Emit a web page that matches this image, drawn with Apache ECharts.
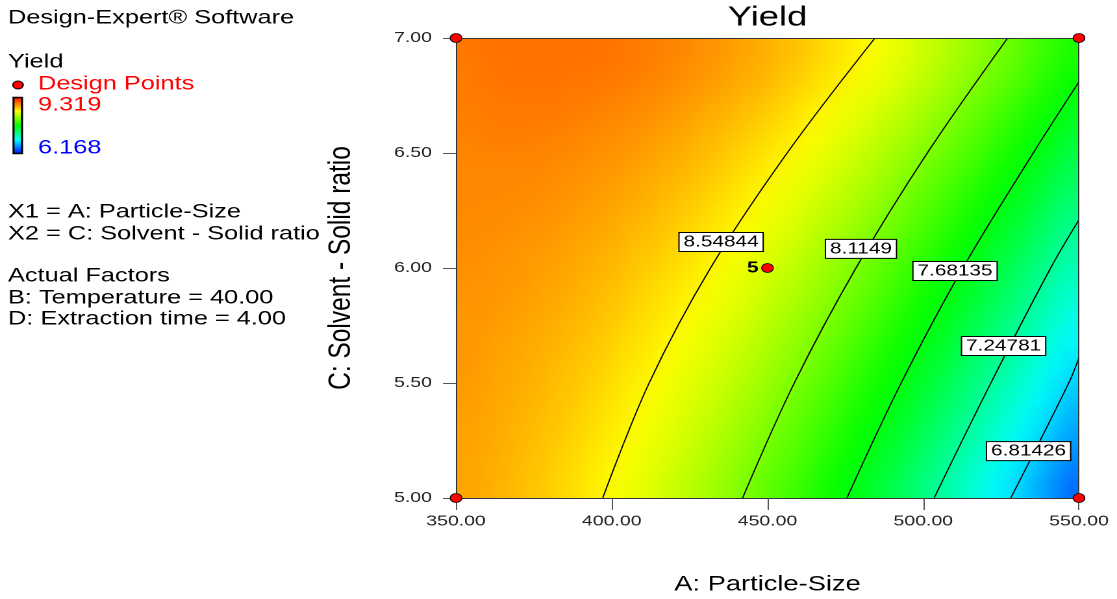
<!DOCTYPE html>
<html>
<head>
<meta charset="utf-8">
<script src="https://cdn.jsdelivr.net/npm/echarts/dist/echarts.min.js"></script>
<style>
  html, body { margin: 0; padding: 0; background: #fff; width: 1117px; height: 599px; overflow: hidden; position: relative; }
  /* response surface: drawn one pixel per cell by ECharts, then shown smoothly enlarged over the plot area */
  #surface { position: absolute; left: 456px; top: 38px; width: 40px; height: 16px;
             transform: scale(15.575, 28.75); transform-origin: 0 0; z-index: 1; image-rendering: auto; }
  #chart { position: absolute; left: 0; top: 0; width: 860px; height: 599px;
           transform: scaleX(1.2988372); transform-origin: 0 0; z-index: 2; }
</style>
</head>
<body>
<div id="surface"></div>
<div id="chart"></div>
<script>
// ---------------- DATA ----------------
// Surface cell centres along A: Particle-Size
const particleSizeCells = [352.5, 357.5, 362.5, 367.5, 372.5, 377.5, 382.5, 387.5, 392.5, 397.5,
  402.5, 407.5, 412.5, 417.5, 422.5, 427.5, 432.5, 437.5, 442.5, 447.5,
  452.5, 457.5, 462.5, 467.5, 472.5, 477.5, 482.5, 487.5, 492.5, 497.5,
  502.5, 507.5, 512.5, 517.5, 522.5, 527.5, 532.5, 537.5, 542.5, 547.5];
// Surface cell centres along C: Solvent - Solid ratio (bottom to top)
const solventRatioCells = [5.0625, 5.1875, 5.3125, 5.4375, 5.5625, 5.6875, 5.8125, 5.9375,
  6.0625, 6.1875, 6.3125, 6.4375, 6.5625, 6.6875, 6.8125, 6.9375];
// Yield read per cell; one row per solventRatioCells entry (bottom row first)
const yieldGrid = [
  [8.81,8.79,8.77,8.74,8.72,8.69,8.66,8.63,8.59,8.55, 8.51,8.47,8.43,8.39,8.34,8.29,8.24,8.18,8.13,8.07, 8.01,7.95,7.89,7.82,7.75,7.68,7.61,7.54,7.46,7.38, 7.30,7.22,7.14,7.05,6.96,6.87,6.78,6.69,6.59,6.49],
  [8.82,8.80,8.78,8.76,8.73,8.71,8.68,8.65,8.61,8.58, 8.54,8.50,8.46,8.42,8.37,8.33,8.28,8.23,8.17,8.12, 8.06,8.00,7.94,7.87,7.81,7.74,7.67,7.60,7.53,7.45, 7.37,7.29,7.21,7.13,7.04,6.95,6.86,6.77,6.68,6.58],
  [8.82,8.81,8.79,8.77,8.75,8.72,8.70,8.67,8.64,8.60, 8.57,8.53,8.49,8.45,8.41,8.36,8.32,8.27,8.22,8.16, 8.11,8.05,7.99,7.93,7.87,7.80,7.73,7.66,7.59,7.52, 7.44,7.36,7.28,7.20,7.12,7.03,6.94,6.85,6.76,6.67],
  [8.83,8.82,8.80,8.78,8.76,8.74,8.72,8.69,8.66,8.63, 8.60,8.56,8.52,8.49,8.44,8.40,8.36,8.31,8.26,8.21, 8.16,8.10,8.04,7.98,7.92,7.86,7.79,7.73,7.66,7.58, 7.51,7.43,7.36,7.28,7.19,7.11,7.02,6.94,6.85,6.75],
  [8.84,8.83,8.81,8.80,8.78,8.76,8.73,8.71,8.68,8.66, 8.62,8.59,8.56,8.52,8.48,8.44,8.40,8.35,8.31,8.26, 8.20,8.15,8.10,8.04,7.98,7.92,7.85,7.79,7.72,7.65, 7.58,7.51,7.43,7.35,7.27,7.19,7.11,7.02,6.93,6.84],
  [8.85,8.84,8.82,8.81,8.79,8.77,8.75,8.73,8.71,8.68, 8.65,8.62,8.59,8.55,8.52,8.48,8.44,8.40,8.35,8.30, 8.25,8.20,8.15,8.09,8.04,7.98,7.92,7.85,7.79,7.72, 7.65,7.58,7.50,7.43,7.35,7.27,7.19,7.10,7.02,6.93],
  [8.85,8.85,8.84,8.82,8.81,8.79,8.78,8.75,8.73,8.71, 8.68,8.65,8.62,8.59,8.55,8.52,8.48,8.44,8.40,8.35, 8.30,8.25,8.20,8.15,8.09,8.04,7.98,7.92,7.85,7.79, 7.72,7.65,7.58,7.50,7.43,7.35,7.27,7.19,7.10,7.02],
  [8.86,8.86,8.85,8.84,8.83,8.81,8.80,8.78,8.76,8.73, 8.71,8.68,8.65,8.62,8.59,8.56,8.52,8.48,8.44,8.40, 8.35,8.30,8.26,8.20,8.15,8.10,8.04,7.98,7.92,7.85, 7.79,7.72,7.65,7.58,7.51,7.43,7.35,7.27,7.19,7.11],
  [8.87,8.87,8.86,8.85,8.84,8.83,8.82,8.80,8.78,8.76, 8.74,8.71,8.69,8.66,8.63,8.60,8.56,8.52,8.49,8.44, 8.40,8.36,8.31,8.26,8.21,8.16,8.10,8.04,7.98,7.92, 7.86,7.79,7.73,7.66,7.58,7.51,7.44,7.36,7.28,7.20],
  [8.88,8.88,8.87,8.87,8.86,8.85,8.84,8.82,8.81,8.79, 8.77,8.75,8.72,8.70,8.67,8.64,8.60,8.57,8.53,8.49, 8.45,8.41,8.36,8.32,8.27,8.22,8.16,8.11,8.05,7.99, 7.93,7.87,7.80,7.73,7.66,7.59,7.52,7.44,7.36,7.28],
  [8.89,8.89,8.89,8.88,8.88,8.87,8.86,8.85,8.83,8.82, 8.80,8.78,8.76,8.73,8.70,8.68,8.64,8.61,8.58,8.54, 8.50,8.46,8.42,8.37,8.33,8.28,8.23,8.17,8.12,8.06, 8.00,7.94,7.88,7.81,7.74,7.67,7.60,7.53,7.45,7.37],
  [8.90,8.90,8.90,8.90,8.90,8.89,8.88,8.87,8.86,8.84, 8.83,8.81,8.79,8.77,8.74,8.72,8.69,8.66,8.62,8.59, 8.55,8.51,8.47,8.43,8.38,8.34,8.29,8.24,8.18,8.13, 8.07,8.01,7.95,7.89,7.82,7.76,7.69,7.61,7.54,7.46],
  [8.91,8.91,8.92,8.92,8.91,8.91,8.90,8.90,8.88,8.87, 8.86,8.84,8.82,8.80,8.78,8.76,8.73,8.70,8.67,8.64, 8.60,8.57,8.53,8.49,8.44,8.40,8.35,8.30,8.25,8.20, 8.14,8.09,8.03,7.97,7.90,7.84,7.77,7.70,7.63,7.55],
  [8.92,8.92,8.93,8.93,8.93,8.93,8.93,8.92,8.91,8.90, 8.89,8.88,8.86,8.84,8.82,8.80,8.77,8.75,8.72,8.69, 8.66,8.62,8.58,8.54,8.50,8.46,8.42,8.37,8.32,8.27, 8.22,8.16,8.10,8.04,7.98,7.92,7.85,7.79,7.72,7.65],
  [8.93,8.94,8.94,8.95,8.95,8.95,8.95,8.94,8.94,8.93, 8.92,8.91,8.89,8.88,8.86,8.84,8.82,8.79,8.77,8.74, 8.71,8.67,8.64,8.60,8.56,8.52,8.48,8.44,8.39,8.34, 8.29,8.23,8.18,8.12,8.06,8.00,7.94,7.87,7.81,7.74],
  [8.94,8.95,8.96,8.97,8.97,8.97,8.97,8.97,8.97,8.96, 8.95,8.94,8.93,8.92,8.90,8.88,8.86,8.84,8.81,8.79, 8.76,8.73,8.70,8.66,8.62,8.59,8.54,8.50,8.46,8.41, 8.36,8.31,8.26,8.20,8.14,8.09,8.02,7.96,7.89,7.83]
];
// Colour scale range shown in the legend
const yieldMin = 6.168;
const yieldMax = 9.319;
// Contour levels and their lines, [A, C] points
const contourLevels = ['8.54844', '8.1149', '7.68135', '7.24781', '6.81426'];
const contour1 = [[397.1, 5.0], [412.0, 5.5], [431.7, 6.0], [456.3, 6.5], [484.5, 7.0]];
const contour2 = [[442.0, 5.0], [458.6, 5.5], [478.4, 6.0], [501.3, 6.5], [527.1, 7.0]];
const contour3 = [[475.5, 5.0], [492.9, 5.5], [512.7, 6.0], [535.3, 6.5], [550.0, 6.81]];
const contour4 = [[503.5, 5.0], [521.7, 5.5], [540.9, 6.0], [550.0, 6.21]];
const contour5 = [[528.1, 5.0], [546.7, 5.5], [550.0, 5.61]];
// Where each contour's value tag sits, [A, C]
const contourTagAt = [[435.1, 6.113], [480.0, 6.083], [510.2, 5.987], [525.8, 5.661], [533.8, 5.204]];
// Design points [A, C, replicates]
const designPoints = [[350, 5, 1], [350, 7, 1], [550, 5, 1], [550, 7, 1], [450, 6, 5]];
// Side-panel texts
const infoTexts = ['Design-Expert\u00ae Software', 'Yield', 'Design Points', String(yieldMax), String(yieldMin),
  'X1 = A: Particle-Size', 'X2 = C: Solvent - Solid ratio', 'Actual Factors',
  'B: Temperature = 40.00', 'D: Extraction time = 4.00'];

// ---------------- LAYOUT / STYLE ----------------
const RAMP = ['#0000ff', '#00ffff', '#00ff00', '#ffff00', '#ff0000'];
const S = 1117 / 860;               // horizontal stretch of the original picture
const X = px => px / S;             // reference-pixel x -> chart x
const FONT = '"Liberation Sans", Arial, Helvetica, sans-serif';
const plot = { left: X(456), top: 38, width: X(1079) - X(456), height: 460 };

// ---- surface chart (heatmap, one pixel per cell) ----
const heatData = [];
yieldGrid.forEach((row, j) => row.forEach((v, k) => heatData.push([k, j, v])));
const surface = echarts.init(document.getElementById('surface'), null, { renderer: 'canvas', devicePixelRatio: 1 });
surface.setOption({
  animation: false,
  grid: { left: 0, top: 0, right: 0, bottom: 0, outerBoundsMode: 'none' },
  xAxis: { type: 'category', data: particleSizeCells.map(String), show: false },
  yAxis: { type: 'category', data: solventRatioCells.map(String), show: false },
  visualMap: { type: 'continuous', show: false, min: yieldMin, max: yieldMax, inRange: { color: RAMP } },
  series: [{ type: 'heatmap', data: heatData, progressive: 0, silent: true, emphasis: { disabled: true } }]
});

// ---- main chart ----
const infoLayout = [
  { x: 8, y: 18, color: '#000' }, { x: 8, y: 62, color: '#000' },
  { x: 38, y: 84, color: '#ff0000' }, { x: 38, y: 105, color: '#ff0000' },
  { x: 38, y: 148, color: '#0000ff' }, { x: 8, y: 212, color: '#000' },
  { x: 8, y: 234, color: '#000' }, { x: 8, y: 276, color: '#000' },
  { x: 8, y: 298, color: '#000' }, { x: 8, y: 319, color: '#000' }
];
const graphics = infoTexts.map((t, i) => ({
  type: 'text', left: X(infoLayout[i].x), top: infoLayout[i].y - 10, z: 20,
  style: { text: t, fill: infoLayout[i].color, font: '19.5px ' + FONT }
}));
graphics.push({ type: 'circle', shape: { cx: X(18), cy: 85, r: 4 }, z: 20,
  style: { fill: '#ff0000', stroke: '#000', lineWidth: 1 } });
graphics.push({ type: 'rect', shape: { x: X(13.5), y: 97.5, width: X(22) - X(13.5), height: 56 }, z: 20,
  style: { stroke: '#000', lineWidth: 1.6,
    fill: { type: 'linear', x: 0, y: 1, x2: 0, y2: 0,
      colorStops: RAMP.map((c, i) => ({ offset: i / (RAMP.length - 1), color: c })) } } });

const contourLines = [contour1, contour2, contour3, contour4, contour5];
const frameAxis = { type: 'value', z: 10,
  axisLine: { show: true, onZero: false, lineStyle: { color: '#333', width: 1 } },
  axisTick: { show: false }, axisLabel: { show: false }, splitLine: { show: false } };

const option = {
  animation: false,
  backgroundColor: 'transparent',
  textStyle: { fontFamily: FONT },
  title: { text: 'Yield', left: X(767.5), top: 4, padding: 0, textAlign: 'center',
    textStyle: { fontSize: 28, fontWeight: 'normal', color: '#000', fontFamily: FONT } },
  grid: Object.assign({ outerBoundsMode: 'none' }, plot),
  xAxis: [
    Object.assign({}, frameAxis, {
      min: 350, max: 550, interval: 50, position: 'bottom',
      name: 'A: Particle-Size', nameLocation: 'middle', nameGap: 76,
      nameTextStyle: { fontSize: 21, color: '#000', fontFamily: FONT },
      axisTick: { show: true, length: 12, lineStyle: { color: '#555' } },
      axisLabel: { show: true, margin: 16, fontSize: 15, color: '#222', fontFamily: FONT,
        formatter: v => v.toFixed(2) }
    }),
    Object.assign({}, frameAxis, { min: 350, max: 550, position: 'top' })
  ],
  yAxis: [
    Object.assign({}, frameAxis, {
      min: 5, max: 7, interval: 0.5, position: 'left',
      name: 'C: Solvent - Solid ratio', nameLocation: 'middle', nameGap: 76,
      nameTextStyle: { fontSize: 24.5, color: '#000', fontFamily: FONT },
      axisTick: { show: true, length: 10, lineStyle: { color: '#555' } },
      axisLabel: { show: true, margin: 18.5, fontSize: 15, color: '#222', fontFamily: FONT,
        formatter: v => v.toFixed(2) }
    }),
    Object.assign({}, frameAxis, { min: 5, max: 7, position: 'right' })
  ],
  graphic: graphics,
  series: contourLines.map(pts => ({
      type: 'line', data: pts, showSymbol: false, symbol: 'none',
      smooth: 0.35, silent: true, z: 3, lineStyle: { color: '#000', width: 1 }
  })).concat([
    { type: 'scatter', symbolSize: 1, silent: true, z: 6,
      itemStyle: { color: 'rgba(0,0,0,0)', opacity: 1 },
      data: contourTagAt.map((p, i) => ({ value: p, name: contourLevels[i] })),
      label: { show: true, position: 'inside', formatter: '{b}', fontSize: 16, color: '#000',
        fontFamily: FONT, backgroundColor: '#ffffff', borderColor: '#000', borderWidth: 1,
        padding: [1, 3, 0, 3], lineHeight: 17, opacity: 1 } },
    { type: 'scatter', symbol: 'circle', symbolSize: 9, clip: false, silent: true, z: 12,
      itemStyle: { color: '#ff0000', borderColor: '#000', borderWidth: 0.8, opacity: 1 },
      label: { position: 'left', distance: 2, fontSize: 16, fontWeight: 'bold', color: '#000', fontFamily: FONT },
      data: designPoints.map(p => ({ value: [p[0], p[1]],
        label: { show: p[2] > 1, formatter: String(p[2]) } })) }
  ])
};

const chart = echarts.init(document.getElementById('chart'), null, { renderer: 'canvas', devicePixelRatio: 2 });
chart.setOption(option);
</script>
</body>
</html>
